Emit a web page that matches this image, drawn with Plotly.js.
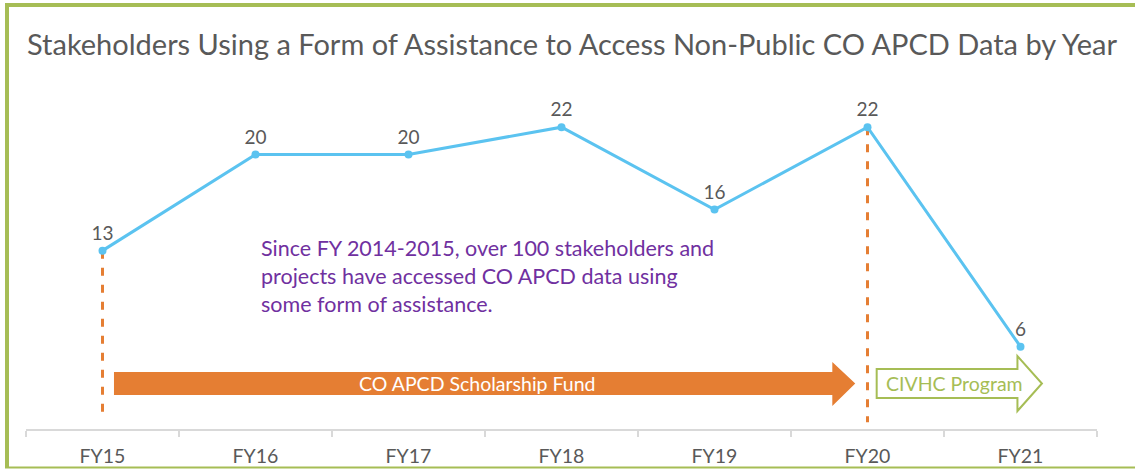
<!DOCTYPE html>
<html>
<head>
<meta charset="utf-8">
<script src="https://cdn.plot.ly/plotly-3.0.1.min.js"></script>
<style>
  html, body { margin: 0; padding: 0; background: #fff; }
  #chart { width: 1135px; height: 470px; }
</style>
</head>
<body>
<div id="chart"></div>
<script>
var years = ['FY15', 'FY16', 'FY17', 'FY18', 'FY19', 'FY20', 'FY21'];
var stakeholders = [13, 20, 20, 22, 16, 22, 6];
var noteLines = [
    'Since FY 2014-2015, over 100 stakeholders and',
    'projects have accessed CO APCD data using',
    'some form of assistance.'
];
var fundLabel = 'CO APCD Scholarship Fund';
var programLabel = 'CIVHC Program';

var W = 1135, H = 470;
var gray = '#595959';
var blue = '#5BC3F0';
var orange = '#E57E33';
var green = '#A6BD55';
var purple = '#7030A0';
var font = 'Lato, "Open Sans", sans-serif';

// pixel -> paper helpers for the frame
var m = {l: 26, r: 38, t: 86, b: 41};
var pw = W - m.l - m.r, ph = H - m.t - m.b;
function px(x) { return (x - m.l) / pw; }
function py(y) { return (H - m.b - y) / ph; }

var trace = {
    x: years,
    y: stakeholders,
    mode: 'lines+markers+text',
    text: stakeholders.map(String),
    textposition: 'top center',
    textfont: {family: font, size: 19, color: gray},
    line: {color: blue, width: 3},
    marker: {color: blue, size: 8},
    cliponaxis: false,
    hoverinfo: 'x+y'
};

function arrow(x0, x1, xt, yb0, yb1, yh0, yh1) {
    var yc = (yb0 + yb1) / 2;
    return 'M' + x0 + ',' + yb0 + ' L' + x1 + ',' + yb0 + ' L' + x1 + ',' + yh0 +
        ' L' + xt + ',' + yc + ' L' + x1 + ',' + yh1 + ' L' + x1 + ',' + yb1 +
        ' L' + x0 + ',' + yb1 + ' Z';
}

var shapes = [
    // dashed markers at FY15 and FY20
    {type: 'line', xref: 'x', yref: 'y', x0: 0, x1: 0, y0: stakeholders[0], y1: 0.6,
     line: {color: orange, width: 3, dash: '8px,9px'}, layer: 'below'},
    {type: 'line', xref: 'x', yref: 'y', x0: 5, x1: 5, y0: stakeholders[5], y1: 0.5,
     line: {color: orange, width: 3, dash: '8px,9px'}, layer: 'below'},
    // orange scholarship arrow
    {type: 'path', xref: 'x', yref: 'y', path: arrow(0.075, 4.77, 4.92, 4.15, 2.48, 4.88, 1.68),
     fillcolor: orange, line: {width: 0}},
    // green program arrow
    {type: 'path', xref: 'x', yref: 'y', path: arrow(5.06, 5.98, 6.14, 4.37, 2.26, 5.32, 1.31),
     fillcolor: 'rgba(0,0,0,0)', line: {color: green, width: 2}},
    // frame
    {type: 'line', xref: 'paper', yref: 'paper', x0: px(5), x1: px(1135), y0: py(5), y1: py(5),
     line: {color: green, width: 4}},
    {type: 'line', xref: 'paper', yref: 'paper', x0: px(7), x1: px(7), y0: py(3), y1: py(468),
     line: {color: green, width: 4}},
    {type: 'line', xref: 'paper', yref: 'paper', x0: px(5), x1: px(1135), y0: py(467.5), y1: py(467.5),
     line: {color: green, width: 2}}
];

var annotations = [
    {xref: 'x', yref: 'y', x: 2.45, y: 3.32, text: fundLabel, showarrow: false,
     font: {family: font, size: 19.5, color: '#ffffff'}},
    {xref: 'x', yref: 'y', x: 5.57, y: 3.32, text: programLabel, showarrow: false,
     font: {family: font, size: 19.5, color: green}}
];
noteLines.forEach(function(line, i) {
    annotations.push({
        xref: 'x', yref: 'y', x: 1.02, y: 13.2 - i * 2.04, text: line,
        showarrow: false, xanchor: 'left', yanchor: 'middle',
        font: {family: font, size: 21.5, color: purple}
    });
});

var layout = {
    width: W,
    height: H,
    margin: m,
    paper_bgcolor: '#ffffff',
    plot_bgcolor: '#ffffff',
    showlegend: false,
    font: {family: font, color: gray},
    title: {
        text: 'Stakeholders Using a Form of Assistance to Access Non-Public CO APCD Data by Year',
        x: 27 / W, xanchor: 'left', xref: 'container',
        y: 1 - 45 / H, yanchor: 'middle', yref: 'container',
        font: {family: font, size: 29, color: gray}
    },
    xaxis: {
        type: 'category',
        range: [-0.5, 6.5],
        tickson: 'boundaries',
        ticks: 'outside',
        ticklen: 6,
        tickcolor: '#D9D9D9',
        tickwidth: 1.5,
        ticklabelstandoff: 9,
        showline: true,
        linecolor: '#D9D9D9',
        linewidth: 1.5,
        showgrid: false,
        zeroline: false,
        tickfont: {family: font, size: 19.5, color: gray},
        fixedrange: true
    },
    yaxis: {
        range: [0, 25],
        visible: false,
        showgrid: false,
        zeroline: false,
        fixedrange: true
    },
    shapes: shapes,
    annotations: annotations
};

Plotly.newPlot('chart', [trace], layout, {displayModeBar: false, staticPlot: true});
</script>
</body>
</html>
